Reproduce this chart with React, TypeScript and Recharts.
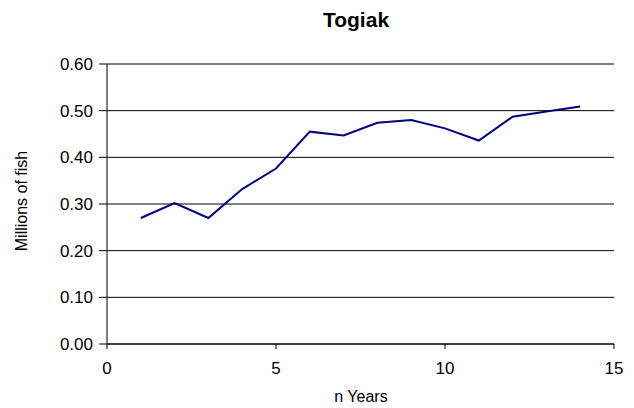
import { LineChart, Line, XAxis, YAxis, CartesianGrid } from "recharts";

const years = [1, 2, 3, 4, 5, 6, 7, 8, 9, 10, 11, 12, 13, 14];
const fish = [0.27, 0.302, 0.27, 0.332, 0.376, 0.455, 0.447, 0.474, 0.48, 0.462, 0.436, 0.487, 0.498, 0.509];
const xTicks = [0, 5, 10, 15];
const yTicks = [0, 0.1, 0.2, 0.3, 0.4, 0.5, 0.6];

const data = years.map((year, i) => ({ year, value: fish[i] }));

const FONT = '"Liberation Sans", Arial, sans-serif';

export default function App() {
  return (
    <div style={{ position: "absolute", left: 0, top: 0, width: 634, height: 408, background: "#fff", fontFamily: FONT }}>
      <div style={{ position: "absolute", left: 256, top: 9, width: 200, textAlign: "center", fontSize: 21, lineHeight: "21px", fontWeight: "bold" }}>
        Togiak
      </div>
      <div
        style={{
          position: "absolute", left: -78, top: 191, width: 200, height: 20, lineHeight: "20px",
          textAlign: "center", fontSize: 16, transform: "rotate(-90deg)",
        }}
      >
        Millions of fish
      </div>
      <div style={{ position: "absolute", left: 261, top: 389, width: 200, textAlign: "center", fontSize: 16, lineHeight: "16px" }}>
        n Years
      </div>
      <LineChart width={634} height={408} data={data} margin={{ top: 64, right: 20, bottom: 0, left: 0 }}>
        <CartesianGrid vertical={false} stroke="#000" strokeWidth={1} horizontalValues={yTicks} />
        <XAxis
          dataKey="year"
          type="number"
          domain={[0, 15]}
          ticks={xTicks}
          height={64}
          stroke="#000"
          tickSize={5}
          tickMargin={13}
          tick={{ fill: "#000", fontSize: 17, fontFamily: FONT }}
          interval={0}
        />
        <YAxis
          type="number"
          domain={[0, 0.6]}
          ticks={yTicks}
          width={107}
          stroke="#000"
          tickSize={8}
          tickMargin={6}
          tickFormatter={(v: number) => v.toFixed(2)}
          tick={{ fill: "#000", fontSize: 17, fontFamily: FONT }}
          interval={0}
        />
        <Line
          type="linear"
          dataKey="value"
          stroke="#000080"
          strokeWidth={2}
          dot={false}
          isAnimationActive={false}
        />
      </LineChart>
    </div>
  );
}
